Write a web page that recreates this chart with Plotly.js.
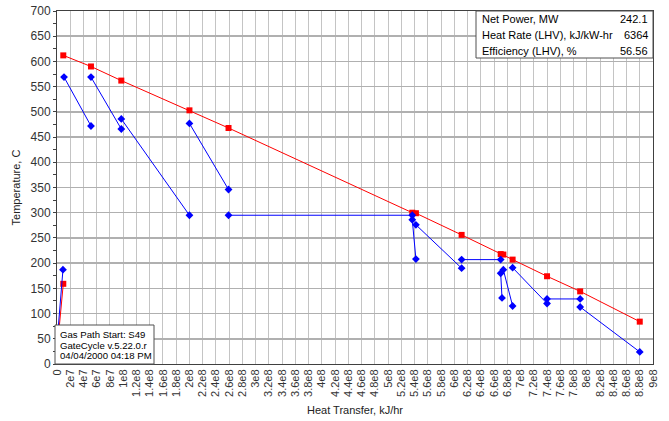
<!DOCTYPE html>
<html>
<head>
<meta charset="utf-8">
<script src="https://cdn.plot.ly/plotly-3.0.1.min.js"></script>
<style>html,body{margin:0;padding:0;background:#fff;}#chart{width:669px;height:421px;}</style>
</head>
<body>
<div id="chart"></div>
<script>
// Gas path (red): heat transfer (kJ/hr) and temperature (C); null = break in line
const gasQ = [0, 9.5e6, null, 9.5e6, 5.13e7, 9.71e7, 2.0e8, 2.59e8, 5.365e8, 5.42e8, 6.11e8, 6.70e8, 6.74e8, 6.88e8, 7.40e8, 7.90e8, 8.80e8];
const gasT = [26, 159, null, 612, 590, 562, 503, 468, 300, 299, 256, 218, 217, 207, 174, 144, 84];

// Water / steam side (blue) segments
const waterQ = [0, 9e6, null,
  1.06e7, 5.13e7, null,
  5.13e7, 9.71e7, null,
  9.71e7, 2.0e8, null,
  2.0e8, 2.59e8, null,
  2.59e8, 5.365e8, null,
  5.365e8, 5.42e8, null,
  5.42e8, 6.11e8, null,
  6.11e8, 6.70e8, null,
  6.70e8, 6.72e8, null,
  6.74e8, 6.88e8, null,
  6.88e8, 7.40e8, null,
  7.40e8, 7.90e8, null,
  7.90e8, 8.80e8];
const waterT = [42, 187, null,
  569, 472, null,
  569, 466, null,
  486, 295, null,
  477, 346, null,
  295, 295, null,
  286, 208, null,
  276, 190, null,
  207, 207, null,
  180, 131, null,
  187, 115, null,
  191, 120, null,
  129, 129, null,
  113, 24];

// Axis tick labels
const xTickLabels = ["0","2e7","4e7","6e7","8e7","1e8","1.2e8","1.4e8","1.6e8","1.8e8","2e8","2.2e8","2.4e8","2.6e8","2.8e8","3e8","3.2e8","3.4e8","3.6e8","3.8e8","4e8","4.2e8","4.4e8","4.6e8","4.8e8","5e8","5.2e8","5.4e8","5.6e8","5.8e8","6e8","6.2e8","6.4e8","6.6e8","6.8e8","7e8","7.2e8","7.4e8","7.6e8","7.8e8","8e8","8.2e8","8.4e8","8.6e8","8.8e8","9e8"];
const xTickVals = xTickLabels.map(Number);

// Info boxes
const perfLabels = ["Net Power, MW", "Heat Rate (LHV), kJ/kW-hr", "Efficiency (LHV), %"];
const perfValues = ["242.1", "6364", "56.56"];
const stampLines = ["Gas Path Start: S49", "GateCycle v.5.22.0.r", "04/04/2000 04:18 PM"];

const traces = [
  {x: gasQ, y: gasT, type: 'scatter', mode: 'lines+markers', connectgaps: false,
   line: {color: '#ff0000', width: 1}, marker: {symbol: 'square', size: 6, color: '#ff0000'}},
  {x: waterQ, y: waterT, type: 'scatter', mode: 'lines+markers', connectgaps: false,
   line: {color: '#0000ff', width: 1}, marker: {symbol: 'diamond', size: 6, color: '#0000ff'}}
];

// pixel helpers for box placement (paper coords)
const L = 57, R = 653, T = 11, B = 364;
const px = v => (v - L) / (R - L);
const py = v => (B - v) / (B - T);

const annotations = [];
const rowY = [19, 35, 51];
perfLabels.forEach((t, i) => {
  annotations.push({xref: 'paper', yref: 'paper', x: px(480), y: py(rowY[i]), xanchor: 'left', yanchor: 'middle',
    text: t, showarrow: false, font: {size: 11, color: '#000'}});
  annotations.push({xref: 'paper', yref: 'paper', x: px(650), y: py(rowY[i]), xanchor: 'right', yanchor: 'middle',
    text: perfValues[i], showarrow: false, font: {size: 11, color: '#000'}});
});
const stampY = [334, 345, 355.5];
stampLines.forEach((t, i) => {
  annotations.push({xref: 'paper', yref: 'paper', x: px(58), y: py(stampY[i]), xanchor: 'left', yanchor: 'middle',
    text: t, showarrow: false, font: {size: 9.6, color: '#000'}});
});

const shapes = [
  {type: 'rect', xref: 'paper', yref: 'paper', x0: px(476), x1: px(653), y0: py(58), y1: py(11),
   fillcolor: '#ffffff', line: {color: '#505050', width: 1}, layer: 'above'},
  {type: 'rect', xref: 'paper', yref: 'paper', x0: px(55), x1: px(154), y0: py(364), y1: py(325),
   fillcolor: '#ffffff', line: {color: '#505050', width: 1}, layer: 'above'}
];

const layout = {
  width: 669, height: 421,
  margin: {l: L, r: 669 - R, t: T, b: 421 - B, pad: 0},
  paper_bgcolor: '#ffffff', plot_bgcolor: '#ffffff',
  showlegend: false,
  font: {family: '"Liberation Sans", Arial, sans-serif', size: 11, color: '#222'},
  xaxis: {
    range: [0, 9e8], tickmode: 'array', tickvals: xTickVals, ticktext: xTickLabels,
    tickangle: -90, tickfont: {size: 11, color: '#333'},
    showgrid: true, gridcolor: '#c4c4c4', gridwidth: 1,
    showline: true, linecolor: '#404040', linewidth: 1, mirror: true,
    ticks: '', zeroline: false,
    title: {text: 'Heat Transfer, kJ/hr', font: {size: 11, color: '#222'}, standoff: 10}
  },
  yaxis: {
    range: [0, 700], tickmode: 'linear', tick0: 0, dtick: 50,
    tickfont: {size: 12, color: '#333'},
    showgrid: true, gridcolor: '#b0b0b0', gridwidth: 1.5,
    showline: true, linecolor: '#404040', linewidth: 1, mirror: true,
    ticks: 'outside', ticklen: 3, tickcolor: '#404040', zeroline: false,
    minor: {dtick: 25, ticks: 'outside', ticklen: 3, tickcolor: '#404040', showgrid: false},
    title: {text: 'Temperature, C', font: {size: 11, color: '#222'}, standoff: 7}
  },
  annotations: annotations,
  shapes: shapes
};

Plotly.newPlot('chart', traces, layout, {staticPlot: true, displayModeBar: false});
</script>
</body>
</html>
